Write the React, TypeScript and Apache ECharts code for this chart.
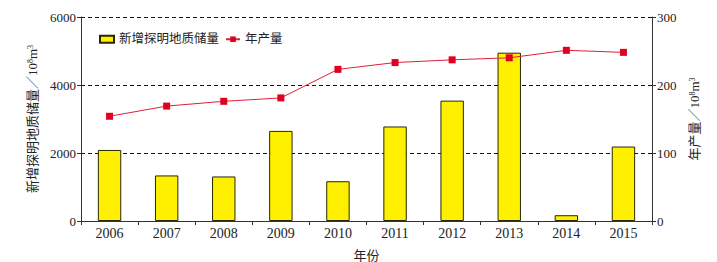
import React, { useEffect, useRef } from "react";
import * as echarts from "echarts";

const years = ["2006", "2007", "2008", "2009", "2010", "2011", "2012", "2013", "2014", "2015"];
const reserves = [2090, 1340, 1310, 2650, 1170, 2780, 3540, 4950, 170, 2190];
const production = [154, 169, 176, 181, 223, 233, 237, 240, 251, 248];

const serif = "'Liberation Serif', 'Times New Roman', 'Noto Sans CJK SC', serif";
const textColor = "#222";

export default function App() {
  const ref = useRef<HTMLDivElement>(null);
  useEffect(() => {
    if (!ref.current) return;
    const chart = echarts.init(ref.current, undefined, { renderer: "svg" });
    const supRich = {
      sup: { fontSize: 8, verticalAlign: "top", lineHeight: 10, fontFamily: serif, color: textColor, padding: [0, 0, 5, 0] },
    };
    chart.setOption({
      animation: false,
      backgroundColor: "#fff",
      textStyle: { fontFamily: serif, color: textColor },
      grid: { left: 81, right: 65, top: 17, bottom: 41, containLabel: false, outerBoundsMode: "none" },
      legend: {
        left: 94,
        top: 28,
        itemWidth: 14,
        itemHeight: 7,
        itemGap: 6,
        textStyle: { fontFamily: serif, fontSize: 12.5, color: textColor },
        data: [
          { name: "新增探明地质储量", icon: "rect" },
          { name: "年产量" },
        ],
      },
      xAxis: {
        type: "category",
        data: years,
        name: "年份",
        nameLocation: "middle",
        nameGap: 28,
        nameTextStyle: { fontFamily: serif, fontSize: 13, color: textColor },
        axisLine: { lineStyle: { color: "#333", width: 1 } },
        axisTick: { show: true, alignWithLabel: false, length: 4, lineStyle: { color: "#333" } },
        axisLabel: { fontSize: 14, color: textColor, margin: 5, fontFamily: serif },
      },
      yAxis: [
        {
          type: "value",
          min: 0,
          max: 6000,
          interval: 2000,
          name: "新增探明地质储量／10{sup|8}m{sup|3}",
          nameLocation: "middle",
          nameRotate: 90,
          nameGap: 35,
          nameTextStyle: { fontFamily: serif, fontSize: 13, color: textColor, rich: supRich },
          axisLine: { show: true, lineStyle: { color: "#333", width: 1 } },
          axisTick: { show: true, length: 4, lineStyle: { color: "#333" } },
          axisLabel: { fontSize: 13, color: textColor, margin: 5, fontFamily: serif, formatter: (v: number) => String(v) },
          splitLine: { show: true, lineStyle: { type: [4, 3], color: "#111", width: 1 } },
        },
        {
          type: "value",
          min: 0,
          max: 300,
          interval: 100,
          position: "right",
          name: "年产量／10{sup|8}m{sup|3}",
          nameLocation: "middle",
          nameRotate: 90,
          nameGap: 36,
          nameTextStyle: { fontFamily: serif, fontSize: 13, color: textColor, rich: supRich },
          axisLine: { show: true, lineStyle: { color: "#333", width: 1 } },
          axisTick: { show: true, length: 4, lineStyle: { color: "#333" } },
          axisLabel: { fontSize: 13, color: textColor, margin: 5, fontFamily: serif, formatter: (v: number) => String(v) },
          splitLine: { show: false },
        },
      ],
      series: [
        {
          name: "新增探明地质储量",
          type: "bar",
          yAxisIndex: 0,
          data: reserves,
          barWidth: "41%",
          itemStyle: { color: "#FFF000", borderColor: "#2a2600", borderWidth: 1 },
        },
        {
          name: "年产量",
          type: "line",
          yAxisIndex: 1,
          data: production,
          symbol: "rect",
          symbolSize: 7,
          lineStyle: { color: "#e0203a", width: 1 },
          itemStyle: { color: "#e00020" },
        },
      ],
    });
    return () => chart.dispose();
  }, []);
  return <div ref={ref} style={{ position: "fixed", left: 0, top: 0, width: 717, height: 262 }} />;
}
